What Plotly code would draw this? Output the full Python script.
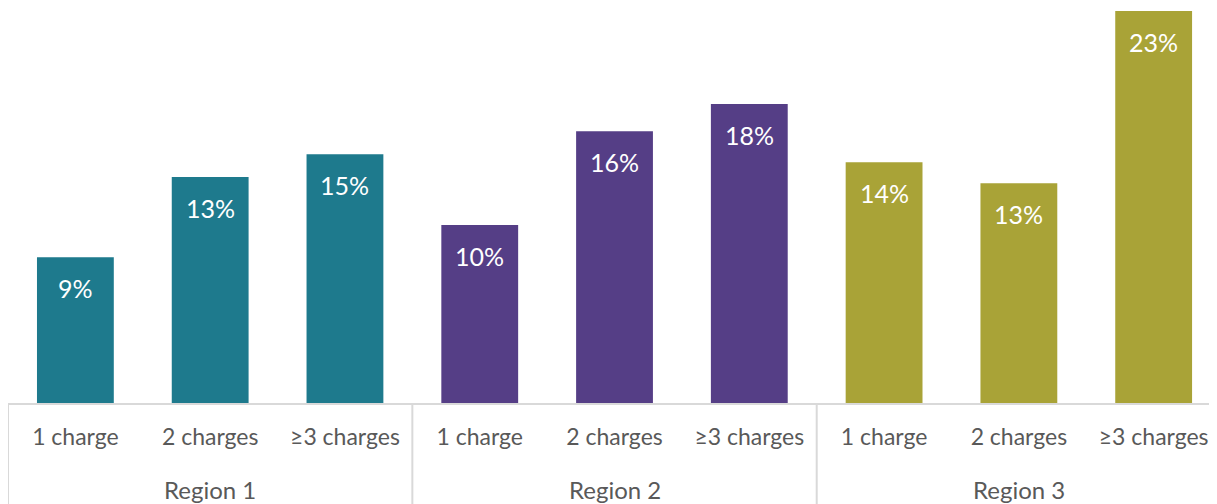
import plotly.graph_objects as go

regions = ["Region 1", "Region 2", "Region 3"]
charges = ["1 charge", "2 charges", "≥3 charges"]
values = {
    "Region 1": [8.56, 13.26, 14.6],
    "Region 2": [10.44, 15.95, 17.54],
    "Region 3": [14.13, 12.9, 23.0],
}
labels = {
    "Region 1": ["9%", "13%", "15%"],
    "Region 2": ["10%", "16%", "18%"],
    "Region 3": ["14%", "13%", "23%"],
}
colors = {"Region 1": "#1E7A8D", "Region 2": "#553E86", "Region 3": "#A9A337"}

W, H = 1209, 496          # page body has an 8px margin
M_L, M_R, M_T, M_B = 0, 0, 0, 101
plot_h = H - M_T - M_B
grey = "#d9d9d9"
txt = "#595959"

fig = go.Figure()
tickvals, ticktext = [], []
idx = 0
for r in regions:
    xs = list(range(idx, idx + len(charges)))
    fig.add_trace(go.Bar(
        x=xs, y=values[r],
        marker=dict(color=colors[r], line=dict(width=0)),
        width=0.57, showlegend=False, hoverinfo="skip",
    ))
    for x, v, lab in zip(xs, values[r], labels[r]):
        fig.add_annotation(x=x, y=v, xref="x", yref="y", text=lab, showarrow=False,
                           yanchor="middle", yshift=-31,
                           font=dict(family="Lato", size=25, color="white"))
    tickvals += xs
    ticktext += charges
    # group label
    fig.add_annotation(x=(xs[0] + xs[-1]) / 2, y=0, xref="x", yref="paper",
                       text=r, showarrow=False, yanchor="middle", yshift=-86,
                       font=dict(family="Lato", size=24, color=txt))
    # group divider on the left of each group
    fig.add_shape(type="line", xref="x", yref="paper",
                  x0=xs[0] - 0.5, x1=xs[0] - 0.5, y0=0, y1=-M_B / plot_h,
                  line=dict(color=grey, width=2))
    idx += len(charges)

fig.update_layout(
    width=W, height=H,
    margin=dict(l=M_L, r=M_R, t=M_T, b=M_B, autoexpand=False),
    paper_bgcolor="white", plot_bgcolor="white",
    font=dict(family="Lato", size=24, color=txt),
)
fig.update_xaxes(
    range=[-0.5, idx - 0.53],   # the original chart runs slightly past the right edge
    tickmode="array", tickvals=tickvals, ticktext=ticktext,
    showline=True, linecolor=grey, linewidth=2,
    ticks="", showgrid=False, zeroline=False,
    ticklabelstandoff=12,
    tickfont=dict(family="Lato", size=23, color=txt),
)
fig.update_yaxes(range=[0, 23.18], visible=False, showgrid=False, zeroline=False)

fig.write_html("out.html")
